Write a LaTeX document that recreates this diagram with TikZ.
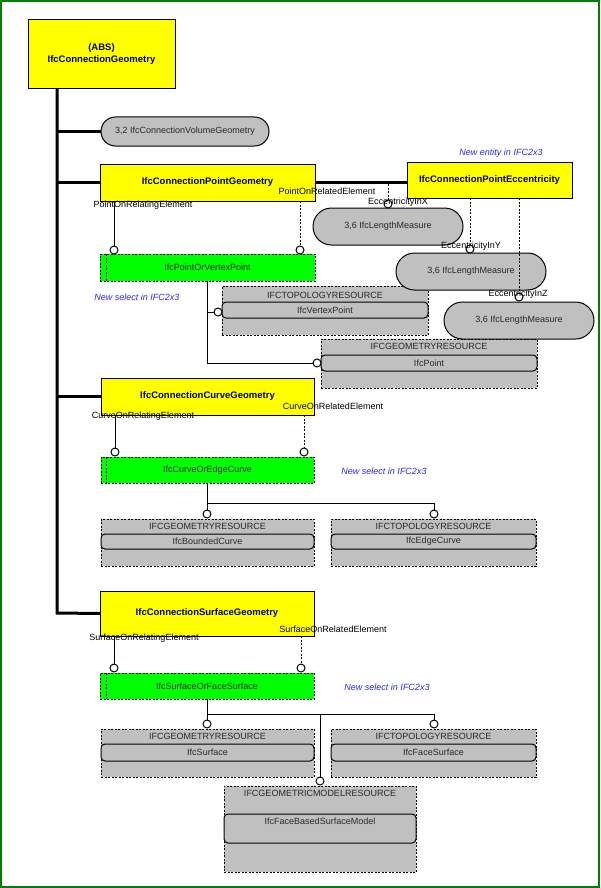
\documentclass[tikz,border=0pt]{standalone}
\usepackage{fontspec}
\setmainfont{Liberation Sans}
\usetikzlibrary{shapes.misc}
\definecolor{boxgray}{RGB}{192,192,192}
\definecolor{selgreen}{RGB}{0,255,0}
\definecolor{entyellow}{RGB}{255,255,0}
\definecolor{noteblue}{RGB}{40,40,255}
\definecolor{framegreen}{RGB}{0,128,0}
\definecolor{textgray}{RGB}{40,40,40}
\newcommand{\fsn}{\fontsize{9}{10}\selectfont}
\newcommand{\fbn}{\fontsize{9.5}{12}\selectfont\bfseries}
\begin{document}
\begin{tikzpicture}[x=1pt,y=-1pt,
  every node/.style={inner sep=0pt, outer sep=0pt, font=\fsn},
  dashpat/.style={dash pattern=on 2pt off 1.5pt},
  ent/.style={draw, line width=1pt, fill=entyellow, anchor=north west, font=\fbn, align=center},
  pill/.style={draw, line width=1pt, fill=boxgray, rounded rectangle, anchor=west, text=textgray},
  sel/.style={draw, line width=1pt, dashpat, fill=selgreen, anchor=north west, text=textgray},
  res/.style={draw, line width=1pt, dashpat, fill=boxgray, anchor=north west},
  inr/.style={draw, line width=1pt, fill=boxgray, rounded corners=4pt, anchor=north west},
  hdr/.style={text=textgray},
  lbl/.style={text=black},
  note/.style={text=noteblue, font=\fsn\itshape},
  circ/.style={circle, draw, line width=1pt, fill=white, minimum size=8pt},
  spine/.style={line width=3pt},
  conn/.style={line width=1pt},
  dconn/.style={line width=1pt, dashpat}
]
\useasboundingbox (0,0) rectangle (600,888);
\fill[white] (0,0) rectangle (600,888);
\draw[framegreen, line width=2pt] (1,1) rectangle (599,887);

% ---------- entity boxes ----------
\node[ent, minimum width=147pt, minimum height=69pt] (abs) at (28,20) {(ABS)\\IfcConnectionGeometry};
\node[pill, minimum width=168pt, minimum height=29pt] (vol) at (101,131.5) {3,2 IfcConnectionVolumeGeometry};
\node[ent, minimum width=215pt, minimum height=37pt] (pg) at (100,164) {IfcConnectionPointGeometry};
\node[ent, minimum width=165pt, minimum height=36pt] (ecc) at (407,162) {IfcConnectionPointEccentricity};
\node[ent, minimum width=213pt, minimum height=37pt] (cg) at (101,378) {IfcConnectionCurveGeometry};
\node[ent, minimum width=214pt, minimum height=45pt] (sg) at (100,591) {IfcConnectionSurfaceGeometry};

% ---------- spine ----------
\coordinate (sp) at (57,613);
\draw[dconn] (388,184) -- (388,200);
\draw[spine] (abs.south -| sp) -- (sp) -- (sg.west);
\draw[spine] (vol.west -| sp) -- (vol.west);
\draw[spine] (pg.west -| sp) -- (pg.west);
\draw[spine] (cg.west -| sp) -- (cg.west);
\draw[spine] (pg.east) -- (pg.east -| ecc.west);

% ---------- point geometry ----------
\node[lbl] (l1) at (143,205) {PointOnRelatingElement};
\node[lbl] (l2) at (327,191) {PointOnRelatedElement};
\node[sel, minimum width=215pt, minimum height=27pt] (pv) at (100,254) {IfcPointOrVertexPoint};
\draw[dconn] (106,254) -- (106,281);
\node[circ] (c1) at (114,250) {};
\node[circ] (c2) at (300,250) {};
\draw[conn] (pg.south -| c1) -- (c1.north);
\draw[dconn] (pg.south -| c2) -- (c2.north);
\node[note] (n1) at (137,297) {New select in IFC2x3};

\node[res, minimum width=206pt, minimum height=49pt] (tr1) at (222,286) {};
\node[hdr] (tr1h) at (325,295) {IFCTOPOLOGYRESOURCE};
\node[inr, minimum width=206pt, minimum height=16pt, text=textgray] (tr1i) at (222,302) {IfcVertexPoint};
\node[res, minimum width=216pt, minimum height=49pt] (gr1) at (321,339) {};
\node[hdr] (gr1h) at (429,346) {IFCGEOMETRYRESOURCE};
\node[inr, minimum width=216pt, minimum height=16pt, text=textgray] (gr1i) at (321,355) {IfcPoint};
\coordinate (j1) at (207,363);
\node[circ] (c3) at (218,312) {};
\node[circ] (c4) at (317,363) {};
\draw[conn] (pv.south -| j1) -- (j1) -- (c4.west);
\draw[conn] (c3.west -| j1) -- (c3.west);

% ---------- eccentricity ----------
\node[note] (n2) at (501,153) {New entity in IFC2x3};
\node[pill, minimum width=150pt, minimum height=37pt] (m1) at (313,226.5) {3,6 IfcLengthMeasure};
\node[pill, minimum width=150pt, minimum height=37pt] (m2) at (396,271.5) {3,6 IfcLengthMeasure};
\node[pill, minimum width=150pt, minimum height=37pt] (m3) at (444,320.5) {3,6 IfcLengthMeasure};
\node[circ] (c5) at (388,204) {};
\node[circ] (c6) at (470,249) {};
\node[circ] (c7) at (519,297) {};
\draw[dconn] (ecc.south -| c6) -- (c6.north);
\draw[dconn] (ecc.south -| c7) -- (c7.north);
\node[lbl] (l3) at (398,202) {EccentricityInX};
\node[lbl] (l4) at (471,246) {EccentricityInY};
\node[lbl] (l5) at (518,294) {EccentricityInZ};

% ---------- curve geometry ----------
\node[lbl] (l6) at (143,416) {CurveOnRelatingElement};
\node[lbl] (l7) at (333,406) {CurveOnRelatedElement};
\node[sel, minimum width=213pt, minimum height=26pt] (ce) at (101,457) {IfcCurveOrEdgeCurve};
\draw[dconn] (106,457) -- (106,483);
\node[circ] (c8) at (115,452) {};
\node[circ] (c9) at (304,452) {};
\draw[conn] (cg.south -| c8) -- (c8.north);
\draw[dconn] (cg.south -| c9) -- (c9.north);
\node[note] (n3) at (384,471) {New select in IFC2x3};

\node[res, minimum width=213pt, minimum height=47pt] (gr2) at (101,519) {};
\node[hdr] (gr2h) at (207.5,526) {IFCGEOMETRYRESOURCE};
\node[inr, minimum width=213pt, minimum height=15pt, text=textgray] (gr2i) at (101,534) {IfcBoundedCurve};
\node[res, minimum width=205pt, minimum height=47pt] (tr2) at (331,519) {};
\node[hdr] (tr2h) at (433.5,526) {IFCTOPOLOGYRESOURCE};
\node[inr, minimum width=205pt, minimum height=15pt, text=textgray] (tr2i) at (331,534) {IfcEdgeCurve};
\coordinate (j2) at (207,503);
\node[circ] (c10) at (207,514) {};
\node[circ] (c11) at (434,514) {};
\draw[conn] (ce.south -| j2) -- (j2) -- (j2 -| c11) -- (c11.north);
\draw[conn] (j2) -- (c10.north);

% ---------- surface geometry ----------
\node[lbl] (l8) at (144,638) {SurfaceOnRelatingElement};
\node[lbl] (l9) at (333,629) {SurfaceOnRelatedElement};
\node[sel, minimum width=214pt, minimum height=26pt] (sf) at (100,673) {IfcSurfaceOrFaceSurface};
\draw[dconn] (106,673) -- (106,699);
\node[circ] (c12) at (114,668) {};
\node[circ] (c13) at (301,668) {};
\draw[conn] (sg.south -| c12) -- (c12.north);
\draw[dconn] (sg.south -| c13) -- (c13.north);
\node[note] (n4) at (387,687) {New select in IFC2x3};

\node[res, minimum width=213pt, minimum height=48pt] (gr3) at (101,729) {};
\node[hdr] (gr3h) at (207.5,736) {IFCGEOMETRYRESOURCE};
\node[inr, minimum width=213pt, minimum height=17pt, text=textgray] (gr3i) at (101,744) {IfcSurface};
\node[res, minimum width=205pt, minimum height=48pt] (tr3) at (331,729) {};
\node[hdr] (tr3h) at (433.5,736) {IFCTOPOLOGYRESOURCE};
\node[inr, minimum width=205pt, minimum height=17pt, text=textgray] (tr3i) at (331,744) {IfcFaceSurface};
\node[res, minimum width=192pt, minimum height=86pt] (gm) at (224,786) {};
\node[hdr] (gmh) at (320,793) {IFCGEOMETRICMODELRESOURCE};
\node[inr, minimum width=192pt, minimum height=29pt] (gmi) at (224,814) {};
\node[hdr] (gmit) at (320,821) {IfcFaceBasedSurfaceModel};
\coordinate (j3) at (207,714);
\node[circ] (c14) at (207,724) {};
\node[circ] (c15) at (434,724) {};
\node[circ] (c16) at (320,781) {};
\draw[conn] (sf.south -| j3) -- (j3) -- (j3 -| c15) -- (c15.north);
\draw[conn] (j3) -- (c14.north);
\draw[conn] (j3 -| c16) -- (c16.north);
\end{tikzpicture}
\end{document}
